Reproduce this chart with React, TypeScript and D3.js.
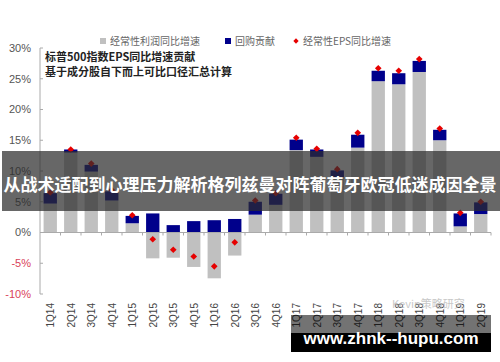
import { scaleBand, scaleLinear, symbol, symbolSquare } from 'd3'

const quarters = [
	'1Q14', '2Q14', '3Q14', '4Q14', '1Q15', '2Q15', '3Q15', '4Q15', '1Q16', '2Q16', '3Q16',
	'4Q16', '1Q17', '2Q17', '3Q17', '4Q17', '1Q18', '2Q18', '3Q18', '4Q18', '1Q19', '2Q19',
]
// 经常性利润同比增速 (%)
const profitGrowth = [
	4.7, 13.0, 9.9, 5.2, 1.5, -4.2, -4.1, -5.6, -7.45, -3.75, 2.9,
	4.5, 13.4, 12.3, 9.0, 13.8, 24.6, 24.1, 26.1, 15.0, 1.0, 3.0,
]
// 回购贡献 (%)
const buybackContribution = [
	1.7, 0.5, 1.1, 1.5, 1.2, 3.1, 1.2, 1.85, 2.0, 2.2, 2.1,
	1.8, 1.7, 1.2, 1.1, 2.1, 1.7, 1.8, 1.8, 1.7, 2.1, 1.9,
]
// 经常性EPS同比增速 (%)
const epsGrowth = [
	6.5, 13.5, 11.2, 6.9, 2.8, -1.1, -2.8, -3.9, -5.5, -1.6, 5.2,
	6.4, 15.4, 13.6, 10.3, 16.2, 26.7, 26.3, 28.2, 16.9, 3.2, 5.0,
]
const yTicks = [30, 25, 20, 15, 10, 5, 0, -5, -10]

const legendItems = [
	{ label: '经常性利润同比增速', color: '#c0c0c0', kind: 'square', x: 100 },
	{ label: '回购贡献', color: '#00008b', kind: 'square', x: 225 },
	{ label: '经常性EPS同比增速', color: '#e60000', kind: 'diamond', x: 293 },
]

export default function App() {
	const width = 500
	const height = 362
	const left = 40
	const right = 491

	const x = scaleBand<string>().domain(quarters).range([left, right]).paddingInner(0.35).paddingOuter(0.175)
	const y = scaleLinear().domain([-10, 30]).range([294, 48])
	const step = x.step()
	const bw = x.bandwidth()
	// square rotated 45° gives an even diamond
	const diamond = symbol().type(symbolSquare).size(22)()
	const smallDiamond = symbol().type(symbolSquare).size(14)()

	const font = 'Arial, "Liberation Sans", "Noto Sans CJK SC", sans-serif'
	const cjk = '"Noto Sans CJK SC", sans-serif'

	return (
		<div style={{ position: 'absolute', left: 0, top: 0 }}>
			<svg width={width} height={height} viewBox={`0 0 ${width} ${height}`} style={{ display: 'block', background: '#fff' }}>
				{/* legend */}
				{legendItems.map((item) => (
					<g key={item.label} transform={`translate(${item.x}, 41)`}>
						{item.kind === 'square' ? (
							<rect x={0} y={-3} width={6} height={6} fill={item.color} />
						) : (
							<path d={smallDiamond ?? ''} transform="translate(3,0) rotate(45)" fill={item.color} />
						)}
						<text x={10} y={0} dy="0.35em" fontSize={10} fill="#666" fontFamily={cjk}>
							{item.label}
						</text>
					</g>
				))}

				{/* y axis */}
				<line x1={left} x2={left} y1={y(30)} y2={y(-10)} stroke="#aaa" />
				{yTicks.map((t) => (
					<g key={t}>
						<line x1={left} x2={left + 3} y1={y(t)} y2={y(t)} stroke="#aaa" />
						<text
							x={31}
							y={y(t)}
							dy="0.35em"
							textAnchor="end"
							fontSize={11}
							fill={t < 0 ? '#d9435a' : '#555'}
							fontFamily={font}
						>
							{t}%
						</text>
					</g>
				))}

				{/* annotation */}
				<text x={45} y={61} fontSize={11} fontWeight="bold" fill="#222" fontFamily={cjk}>
					标普500指数EPS同比增速贡献
				</text>
				<text x={45} y={76} fontSize={11} fontWeight="bold" fill="#222" fontFamily={cjk}>
					基于成分股自下而上可比口径汇总计算
				</text>

				{/* bars */}
				{quarters.map((q, i) => {
					const bx = x(q) ?? 0
					const p = profitGrowth[i]
					const b = buybackContribution[i]
					const base = p > 0 ? p : 0
					return (
						<g key={q}>
							<rect x={bx} y={y(Math.max(p, 0))} width={bw} height={Math.abs(y(p) - y(0))} fill="#c0c0c0" />
							<rect x={bx} y={y(base + b)} width={bw} height={y(base) - y(base + b)} fill="#00008b" />
							<path
								d={diamond ?? ''}
								transform={`translate(${bx + bw / 2}, ${y(epsGrowth[i])}) rotate(45)`}
								fill="#e60000"
							/>
						</g>
					)
				})}

				{/* x axis */}
				<line x1={left} x2={right} y1={y(0)} y2={y(0)} stroke="#aaa" />
				{quarters.map((q, i) => (
					<line key={`t${q}`} x1={left + step * (i + 1)} x2={left + step * (i + 1)} y1={y(0)} y2={y(0) + 3} stroke="#aaa" />
				))}
				{quarters.map((q) => (
					<text
						key={`l${q}`}
						transform={`translate(${(x(q) ?? 0) + bw / 2 + 4}, 303) rotate(-90)`}
						textAnchor="end"
						fontSize={10}
						fill="#444"
						fontFamily={font}
					>
						{q}
					</text>
				))}

				{/* banner overlay */}
				<rect x={2} y={151} width={498} height={60} fill="rgba(45,45,45,0.72)" />
				<text
					x={250}
					y={191}
					textAnchor="middle"
					fontSize={17}
					fontWeight="bold"
					fill="#fff"
					fontFamily={cjk}
				>
					从战术适配到心理压力解析格列兹曼对阵葡萄牙欧冠低迷成因全景
				</text>

				{/* watermarks */}
				<text x={392} y={308} fontSize={11} fill="#bbb" fontFamily={cjk} opacity={0.8}>
					Kevin策略研究
				</text>
				<rect x={291} y={315} width={200} height={18} fill="rgba(0,0,0,0.55)" />
				<rect x={291} y={333} width={200} height={19} fill="#000" />
				<text x={391} y={344} textAnchor="middle" fontSize={17} fontWeight="bold" fill="#fff" fontFamily={font}>
					www.zhnk--hupu.com
				</text>
			</svg>
		</div>
	)
}
